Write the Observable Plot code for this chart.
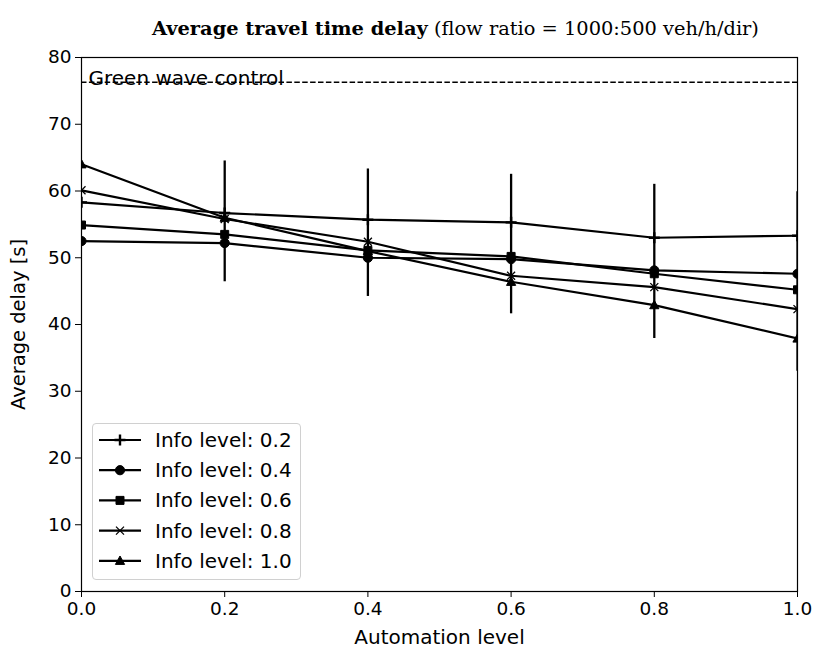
<!DOCTYPE html>
<html><head><meta charset="utf-8">
<script src="https://cdn.jsdelivr.net/npm/d3@7"></script>
<script src="https://cdn.jsdelivr.net/npm/@observablehq/plot@0.6"></script>
<style>
body{margin:0;background:#fff;}
#wrap{position:relative;width:814px;height:655px;}
#title{position:absolute;left:152px;top:17px;text-align:left;font-family:"DejaVu Serif";font-size:19.4px;color:#000;white-space:nowrap;z-index:2;}
#legend{position:absolute;left:92px;top:423px;width:207px;height:155px;border:1px solid #d0d0d0;border-radius:4px;background:rgba(255,255,255,0.8);}
</style>
</head><body>
<div id="wrap"><div id="title"><b>Average travel time delay</b> (flow ratio = 1000:500 veh/h/dir)</div><div id="legend"></div></div>
<script>
// ---- data ----
const automation = [0, 0.2, 0.4, 0.6, 0.8, 1.0];
const infoLevels = ["0.2", "0.4", "0.6", "0.8", "1.0"];
const delay02 = [58.3, 56.7, 55.7, 55.3, 53.0, 53.3];
const delay04 = [52.5, 52.2, 50.0, 49.8, 48.1, 47.6];
const delay06 = [54.9, 53.5, 51.1, 50.2, 47.6, 45.2];
const delay08 = [60.1, 55.8, 52.4, 47.3, 45.6, 42.3];
const delay10 = [64.0, 56.0, 51.0, 46.4, 42.9, 37.9];
const errLow  = [null, 46.4, 44.2, 41.6, 37.9, 33.0];
const errHigh = [null, 64.5, 63.3, 62.5, 61.0, 59.9];
const greenWave = 76.3;
const greenWaveLabel = "Green wave control";
const xTicks = [0, 0.2, 0.4, 0.6, 0.8, 1.0];
const yTicks = [0, 10, 20, 30, 40, 50, 60, 70, 80];

// ---- marker shapes (style) ----
const plusSym = {draw(c){c.moveTo(-5.5,0);c.lineTo(5.5,0);c.moveTo(0,-5.5);c.lineTo(0,5.5);}};
const circleSym = {draw(c){c.moveTo(4.6,0);c.arc(0,0,4.6,0,2*Math.PI);}};
const squareSym = {draw(c){c.moveTo(-4,-4);c.lineTo(4,-4);c.lineTo(4,4);c.lineTo(-4,4);c.closePath();}};
const timesSym = {draw(c){c.moveTo(-4,-4);c.lineTo(4,4);c.moveTo(-4,4);c.lineTo(4,-4);}};
const triSym = {draw(c){c.moveTo(0,-4.8);c.lineTo(4.6,3.6);c.lineTo(-4.6,3.6);c.closePath();}};
const styles = [
  {sym: plusSym, fill: "none", sw: 2.4},
  {sym: circleSym, fill: "black", sw: 1},
  {sym: squareSym, fill: "black", sw: 1},
  {sym: timesSym, fill: "none", sw: 1.3},
  {sym: triSym, fill: "black", sw: 1}
];

const seriesVals = [delay02, delay04, delay06, delay08, delay10];
const rows = [];
seriesVals.forEach((vals, i) => vals.forEach((v, j) => rows.push({auto: automation[j], delay: v, info: infoLevels[i]})));
const errRows = automation.map((a, j) => ({auto: a, lo: errLow[j], hi: errHigh[j]})).filter(d => d.lo != null);

const marks = [
  Plot.ruleY([greenWave], {stroke: "black", strokeWidth: 1.5, strokeDasharray: "5.5,2.4"}),
  Plot.text([greenWaveLabel], {x: 0, y: greenWave, text: d => d, textAnchor: "start", lineAnchor: "bottom", dx: 7, dy: 3, fill: "black", fontSize: 20}),
  Plot.ruleX(errRows, {x: "auto", y1: "lo", y2: "hi", stroke: "black", strokeWidth: 2.3, clip: true}),
  Plot.line(rows, {x: "auto", y: "delay", z: "info", stroke: "black", strokeWidth: 2.2, clip: true})
];
infoLevels.forEach((lvl, i) => {
  const s = styles[i];
  marks.push(Plot.dot(rows.filter(d => d.info === lvl), {x: "auto", y: "delay", symbol: s.sym, r: 4, fill: s.fill, stroke: "black", strokeWidth: s.sw, clip: true}));
});
marks.push(
  Plot.axisX({ticks: xTicks, tickFormat: d3.format(".1f"), tickSize: 6, tickPadding: 4, fontSize: 18.5, label: null}),
  Plot.axisX({ticks: [], tickSize: 0, label: "Automation level", labelAnchor: "center", labelArrow: "none", labelOffset: 52, fontSize: 20}),
  Plot.axisY({ticks: yTicks, tickSize: 6, tickPadding: 4, fontSize: 18.5, label: null}),
  Plot.axisY({ticks: [], tickSize: 0, label: "Average delay [s]", labelAnchor: "center", labelArrow: "none", labelOffset: 70, fontSize: 19.5}),
  Plot.frame({stroke: "black", strokeWidth: 1.2})
);

const chart = Plot.plot({
  width: 814, height: 655,
  marginLeft: 81, marginRight: 17, marginTop: 57, marginBottom: 64,
  x: {domain: [0, 1]},
  y: {domain: [0, 80]},
  style: {fontFamily: "DejaVu Sans", fontSize: "18px", color: "black", background: "white"},
  marks
});
document.getElementById("wrap").prepend(chart);
chart.style.position = "absolute"; chart.style.left = "0"; chart.style.top = "0";

// ---- legend ----
const lg = d3.select("#legend").append("svg").attr("width", 207).attr("height", 155);
infoLevels.forEach((lvl, i) => {
  const cy = 16 + i * 30.2;
  const g = lg.append("g").attr("transform", `translate(0,${cy})`);
  g.append("line").attr("x1", 6).attr("x2", 48).attr("stroke", "black").attr("stroke-width", 2.2);
  g.append("path").attr("transform", "translate(27,0)").attr("d", d3.symbol(styles[i].sym, 1)())
    .attr("fill", styles[i].fill).attr("stroke", "black").attr("stroke-width", styles[i].sw);
  g.append("text").attr("x", 62).attr("dy", "0.35em").attr("font-family", "DejaVu Sans").attr("font-size", 20).text("Info level: " + lvl);
});
</script>
</body></html>
